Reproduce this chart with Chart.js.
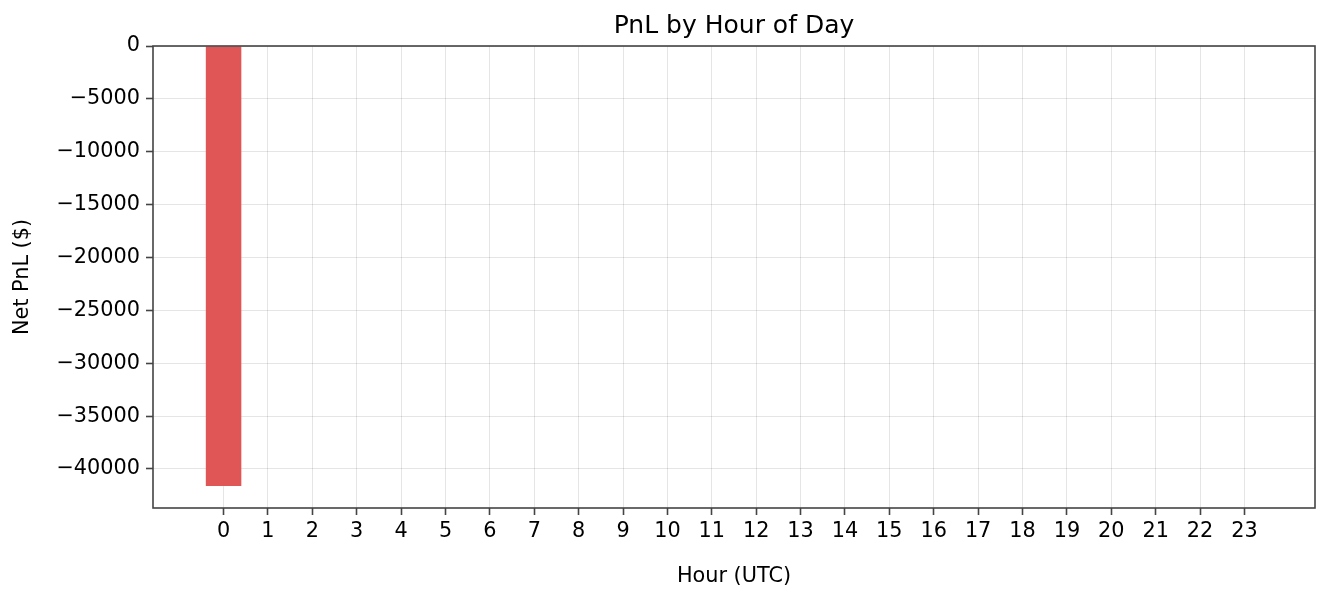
<!DOCTYPE html>
<html><head><script src="https://cdn.jsdelivr.net/npm/chart.js@4"></script>
<style>body{margin:0;background:#fff}#w{width:1330px;height:593px}</style></head>
<body><div id="w"><canvas id="c"></canvas></div>
<script>
const hours=[0,1,2,3,4,5,6,7,8,9,10,11,12,13,14,15,16,17,18,19,20,21,22,23];
const pnl=[-41600,0,0,0,0,0,0,0,0,0,0,0,0,0,0,0,0,0,0,0,0,0,0,0];
const yTicks=[0,-5000,-10000,-15000,-20000,-25000,-30000,-35000,-40000];
const F='DejaVu Sans';
const frame={id:'frame',afterDraw(ch){const a=ch.chartArea,x=ch.ctx;x.save();x.strokeStyle='#444';x.lineWidth=1.6;x.strokeRect(a.left,a.top,a.right-a.left,a.bottom-a.top);
x.fillStyle='#000';x.font='25px '+F;x.textAlign='center';x.textBaseline='middle';x.fillText('PnL by Hour of Day',(a.left+a.right)/2,26);x.restore();}};
new Chart(document.getElementById('c'),{type:'bar',
data:{datasets:[{data:hours.map((h,i)=>({x:h,y:pnl[i]})),backgroundColor:'#e05555',barPercentage:0.8,categoryPercentage:1}]},
options:{responsive:true,maintainAspectRatio:false,animation:false,
layout:{padding:{top:46,right:15,left:0,bottom:0}},
plugins:{legend:{display:false},tooltip:{enabled:false}},
scales:{
x:{type:'linear',offset:false,min:-1.59,max:24.59,
afterBuildTicks(s){s.ticks=hours.map(v=>({value:v}));},
afterFit(s){s.height=85;},
grid:{offset:false,color:'rgba(0,0,0,0.1)',tickColor:'#444',tickLength:7,tickWidth:1.6},border:{display:false},
ticks:{color:'#000',font:{family:F,size:20.8},maxRotation:0,autoSkip:false,padding:4,callback:v=>String(v)},
title:{display:true,text:'Hour (UTC)',color:'#000',font:{family:F,size:20.8},padding:{top:2}}},
y:{min:-43688,max:0,
afterBuildTicks(s){s.ticks=yTicks.map(v=>({value:v}));},
afterFit(s){s.width=153;},
grid:{color:'rgba(0,0,0,0.1)',tickColor:'#444',tickLength:7,tickWidth:1.6},border:{display:false},
ticks:{color:'#000',font:{family:F,size:20.8},padding:6,callback:v=>String(v).replace('-','\u2212')},
title:{display:true,text:'Net PnL ($)',color:'#000',font:{family:F,size:20.8},padding:{top:10,bottom:0}}}}},
plugins:[frame]});
</script></body></html>
